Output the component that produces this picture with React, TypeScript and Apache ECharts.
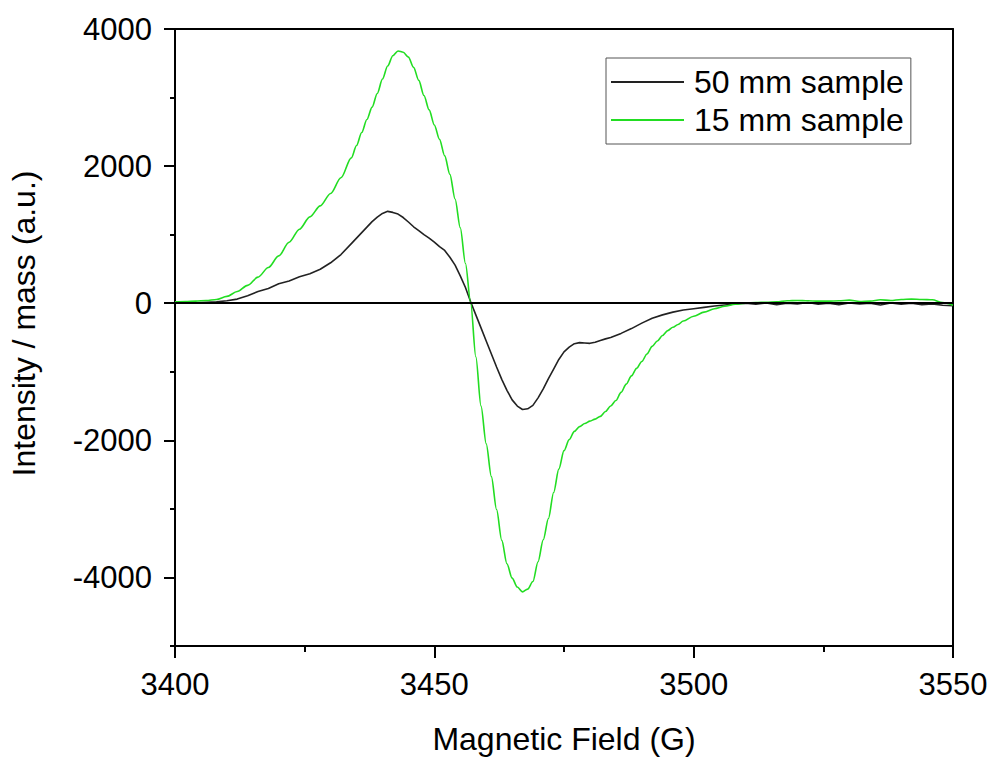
import React, { useEffect, useRef } from "react";
import * as echarts from "echarts";

// Magnetic field (G) and intensity / mass for each sample
const field50: number[] = [
  3400, 3402, 3404, 3406, 3408, 3410, 3412, 3414, 3416, 3418, 3420, 3422, 3424, 3426, 3428, 3430,
  3432, 3434, 3436, 3437, 3438, 3439, 3440, 3441, 3442, 3443, 3444, 3445, 3446, 3447, 3448, 3449,
  3450, 3451, 3452, 3453, 3454, 3455, 3456, 3457, 3458, 3459, 3460, 3461, 3462, 3463, 3464, 3465,
  3466, 3467, 3468, 3469, 3470, 3471, 3472, 3473, 3474, 3475, 3476, 3477, 3478, 3479, 3480, 3481,
  3482, 3483, 3484, 3486, 3488, 3490, 3492, 3494, 3496, 3498, 3500, 3502, 3504, 3506, 3508, 3510,
  3512, 3514, 3516, 3518, 3520, 3522, 3524, 3526, 3528, 3530, 3532, 3534, 3536, 3538, 3540, 3542,
  3544, 3546, 3548, 3550,
];
const intensity50: number[] = [
  5, 10, 5, 15, 20, 35, 60, 110, 170, 215, 285, 325, 385, 430, 495, 590,
  710, 870, 1030, 1110, 1190, 1255, 1310, 1340, 1325, 1300, 1250, 1185, 1115, 1060, 1000, 950,
  890, 825, 770, 670, 555, 400, 230, 20, -170, -360, -550, -740, -930, -1110, -1270, -1410,
  -1500, -1550, -1540, -1490, -1380, -1250, -1100, -960, -820, -710, -640, -590, -575, -580, -585, -570,
  -545, -520, -500, -440, -370, -290, -220, -170, -130, -100, -80, -60, -40, -25, -10, 0,
  -15, 5, -20, 0, -10, 10, -15, 0, -20, 5, -10, 0, -25, 5, -15, 0,
  -20, -10, -30, -35,
];

const field15: number[] = [
  3400, 3402, 3404, 3406, 3408, 3410, 3412, 3414, 3416, 3418, 3420, 3422, 3424, 3426, 3428, 3430,
  3432, 3434, 3435, 3436, 3437, 3438, 3439, 3440, 3441, 3442, 3443, 3444, 3445, 3446, 3447, 3448,
  3449, 3450, 3451, 3452, 3453, 3454, 3455, 3456, 3457, 3458, 3459, 3460, 3461, 3462, 3463, 3464,
  3465, 3466, 3467, 3468, 3469, 3470, 3471, 3472, 3473, 3474, 3475, 3476, 3477, 3478, 3479, 3480,
  3481, 3482, 3483, 3484, 3485, 3486, 3487, 3488, 3489, 3490, 3491, 3492, 3493, 3494, 3495, 3496,
  3497, 3498, 3500, 3502, 3504, 3506, 3508, 3510, 3512, 3514, 3516, 3518, 3520, 3522, 3524, 3526,
  3528, 3530, 3532, 3534, 3536, 3538, 3540, 3542, 3544, 3546, 3548, 3550,
];
const intensity15: number[] = [
  20, 25, 30, 40, 55, 100, 170, 260, 380, 520, 690, 890, 1080, 1260, 1420, 1600,
  1830, 2120, 2300, 2490, 2680, 2860, 3060, 3270, 3460, 3610, 3680, 3660, 3590, 3440, 3250, 3030,
  2820, 2600, 2390, 2150, 1880, 1520, 1100, 580, 10, -780, -1500, -2050, -2530, -3010, -3460, -3800,
  -4010, -4140, -4210, -4170, -4060, -3770, -3450, -3140, -2760, -2420, -2150, -1990, -1870, -1800, -1755, -1720,
  -1690, -1650, -1580, -1500, -1420, -1300, -1180, -1060, -950, -850, -740, -630, -550, -470, -400, -350,
  -310, -260, -190, -130, -80, -45, -15, 0, 10, 15, 20, 35, 40, 35, 30, 30,
  35, 45, 25, 30, 50, 40, 55, 60, 55, 50, 10, -30,
];

const seriesNames: string[] = ["50 mm sample", "15 mm sample"];
const xTicks: number[] = [3400, 3450, 3500, 3550];
const yMajorTicks: number[] = [-4000, -2000, 0, 2000, 4000];
const yMinorTicks: number[] = [-5000, -3000, -1000, 1000, 3000];

const FONT = "'Liberation Sans', Arial, Helvetica, sans-serif";

export default function App() {
  const ref = useRef<HTMLDivElement>(null);

  useEffect(() => {
    if (!ref.current) return;
    const chart = echarts.init(ref.current, null, { renderer: "svg" });
    const pair = (xs: number[], ys: number[]) => xs.map((x, i) => [x, ys[i]]);
    const axisLineStyle = { color: "#000", width: 2 };
    const plain = (v: number) => String(v);

    chart.setOption({
      animation: false,
      backgroundColor: "#fff",
      textStyle: { fontFamily: FONT },
      grid: { left: 174, right: 39, top: 29, bottom: 104, containLabel: false },
      legend: {
        data: seriesNames,
        orient: "vertical",
        left: 606,
        top: 58,
        borderColor: "#555",
        borderWidth: 1,
        borderRadius: 0,
        padding: [8, 7, 8, 5],
        itemGap: 6,
        itemWidth: 73,
        itemHeight: 2,
        icon: "rect",
        textStyle: { fontSize: 32, color: "#000", fontFamily: FONT, padding: [0, 0, 0, 5] },
      },
      xAxis: [
        {
          type: "value",
          min: xTicks[0],
          max: xTicks[xTicks.length - 1],
          interval: 50,
          position: "bottom",
          name: "Magnetic Field (G)",
          nameLocation: "middle",
          nameGap: 77,
          nameTextStyle: { fontSize: 32, color: "#000", fontFamily: FONT },
          axisLine: { show: true, onZero: false, lineStyle: axisLineStyle },
          axisTick: { show: true, inside: false, length: 12, lineStyle: axisLineStyle },
          minorTick: { show: true, splitNumber: 2, length: 6, lineStyle: { color: "#000", width: 2 } },
          axisLabel: { fontSize: 31, color: "#000", margin: 23, fontFamily: FONT, formatter: plain },
          splitLine: { show: false },
        },
        {
          type: "value",
          min: xTicks[0],
          max: xTicks[xTicks.length - 1],
          position: "top",
          axisLine: { show: true, onZero: false, lineStyle: axisLineStyle },
          axisTick: { show: false },
          axisLabel: { show: false },
          splitLine: { show: false },
        },
      ],
      yAxis: [
        {
          type: "value",
          min: -5000,
          max: 4000,
          interval: 1000,
          position: "left",
          name: "Intensity / mass (a.u.)",
          nameLocation: "middle",
          nameGap: 135,
          nameTextStyle: { fontSize: 32, color: "#000", fontFamily: FONT, padding: [0, 0, 0, 28] },
          axisLine: { show: true, onZero: false, lineStyle: axisLineStyle },
          axisTick: { show: true, inside: false, length: 11, customValues: yMajorTicks, lineStyle: axisLineStyle },
          axisLabel: { fontSize: 31, color: "#000", margin: 23, customValues: yMajorTicks, fontFamily: FONT, formatter: plain },
          splitLine: { show: false },
        },
        {
          type: "value",
          min: -5000,
          max: 4000,
          interval: 1000,
          position: "left",
          axisLine: { show: false },
          axisTick: { show: true, inside: false, length: 5, customValues: yMinorTicks, lineStyle: axisLineStyle },
          axisLabel: { show: false },
          splitLine: { show: false },
        },
        {
          type: "value",
          min: -5000,
          max: 4000,
          position: "right",
          axisLine: { show: true, onZero: false, lineStyle: axisLineStyle },
          axisTick: { show: false },
          axisLabel: { show: false },
          splitLine: { show: false },
        },
      ],
      series: [
        {
          name: seriesNames[0],
          type: "line",
          data: pair(field50, intensity50),
          showSymbol: false,
          symbol: "none",
          lineStyle: { color: "#222", width: 1.6 },
          itemStyle: { color: "#222" },
          markLine: {
            silent: true,
            symbol: "none",
            label: { show: false },
            lineStyle: { color: "#000", width: 2, type: "solid" },
            data: [{ yAxis: 0 }],
          },
        },
        {
          name: seriesNames[1],
          type: "line",
          data: pair(field15, intensity15),
          showSymbol: false,
          symbol: "none",
          smooth: 0.3,
          smoothMonotone: "x",
          lineStyle: { color: "#22dd22", width: 1.6 },
          itemStyle: { color: "#22dd22" },
        },
      ],
    });
    return () => chart.dispose();
  }, []);

  return (
    <div
      ref={ref}
      style={{ position: "absolute", left: 0, top: 0, width: 992, height: 760, background: "#fff" }}
    />
  );
}
